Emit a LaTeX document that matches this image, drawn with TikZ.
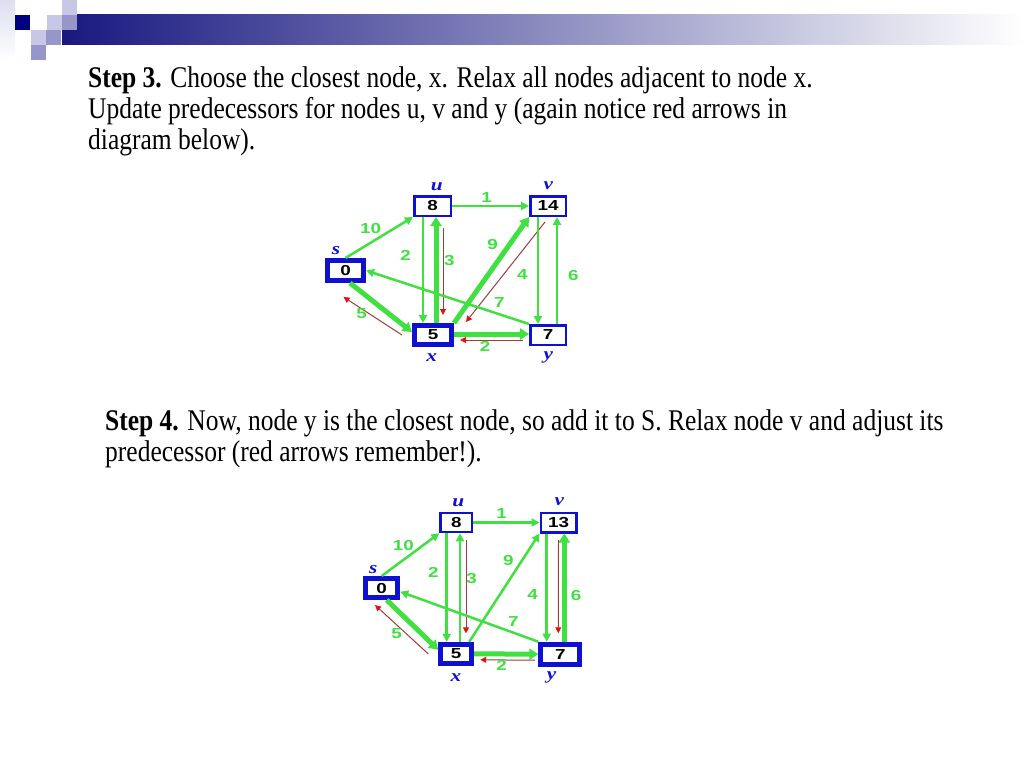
\documentclass[tikz,border=0pt]{standalone}
\usepackage{fontspec}
\setmainfont{Liberation Serif}
\newfontfamily\slidefont[FakeStretch=0.85]{Liberation Serif}
\newfontfamily\gsans[FakeStretch=1.3]{Liberation Sans}
\newfontfamily\nlfont[FakeStretch=1.25]{Liberation Serif}
\usetikzlibrary{arrows.meta,calc}
\definecolor{gr}{RGB}{64,224,64}
\definecolor{bl}{RGB}{16,16,208}
\definecolor{rd}{RGB}{220,20,20}
\definecolor{rdl}{RGB}{160,60,60}
\definecolor{navybar}{RGB}{24,24,128}
\definecolor{sqdark}{RGB}{0,0,128}
\definecolor{sqlight}{RGB}{200,200,230}
\definecolor{sqmed}{RGB}{150,150,200}
\tikzset{
  numfont/.style={font=\gsans\bfseries\fontsize{14.5}{14.5}\selectfont},
  thinbox/.style={draw=bl, line width=2.5pt, fill=white, inner sep=0pt, numfont},
  thickbox/.style={draw=bl, line width=5pt, fill=white, inner sep=0pt, numfont},
  ge/.style={draw=gr, line width=2.5pt, -{Triangle[length=8pt,width=8pt]}},
  gt/.style={draw=gr, line width=5pt, -{Triangle[length=9pt,width=11pt]}},
  re/.style={draw=rdl, line width=1pt, -{Triangle[length=6pt,width=6pt,color=rd]}},
  wl/.style={text=gr, inner sep=0pt, font=\gsans\bfseries\fontsize{14.5}{14.5}\selectfont},
  nl/.style={text=bl, inner sep=0pt, font=\nlfont\bfseries\itshape\fontsize{17}{17}\selectfont},
  slidetext/.style={anchor=base west, inner sep=0pt, font=\slidefont\fontsize{30}{30}\selectfont}
}
\begin{document}
\begin{tikzpicture}[x=1pt,y=-1pt]
\useasboundingbox (0,0) rectangle (1024,768);
% header decoration
\shade[top color=sqlight!60, bottom color=white] (0,0) rectangle (15,60);
\shade[left color=navybar, right color=white] (62,15) rectangle (1024,45);
\fill[sqdark] (15,15) rectangle (30,30);
\fill[sqlight] (47,15) rectangle (62,30);
\fill[sqlight] (62,0) rectangle (77,15);
\fill[sqmed] (62,15) rectangle (77,30);
\fill[sqlight] (31,30) rectangle (46,45);
\fill[sqmed] (46,30) rectangle (61,45);
\fill[sqmed] (31,45) rectangle (46,60);

% text
\node[slidetext] (t1) at (88,87) {\textbf{Step 3.} Choose the closest node, x. Relax all nodes adjacent to node x.};
\node[slidetext] (t2) at (88,118) {Update predecessors for nodes u, v and y (again notice red arrows in};
\node[slidetext] (t3) at (88,149) {diagram below).};
\node[slidetext] (t4) at (105,430) {\textbf{Step 4.} Now, node y is the closest node, so add it to S. Relax node v and adjust its};
\node[slidetext] (t5) at (105,461) {predecessor (red arrows remember!).};

% ---------- diagram 1 ----------
\node[thickbox, minimum width=36pt, minimum height=20pt] (s1) at (345.5,270.5) {0};
\node[thinbox, minimum width=36.5pt, minimum height=19.5pt] (u1) at (432.5,206) {8};
\node[thinbox, minimum width=35.5pt, minimum height=19.5pt] (v1) at (548,206) {14};
\node[thickbox, minimum width=37pt, minimum height=19pt] (x1) at (433,335) {5};
\node[thinbox, minimum width=35.5pt, minimum height=19.5pt] (y1) at (548,335) {7};

\draw[ge] (s1.north) -- (u1.south west);
\draw[ge] (u1.east) -- (v1.west);
\draw[ge] ([xshift=-9.5pt]u1.south) -- ([xshift=-10pt]x1.north);
\draw[gt] ([xshift=3pt]x1.north) -- ([xshift=3.5pt]u1.south);
\draw[re] ([xshift=10.5pt,yshift=-11pt]u1.south) -- ([xshift=10pt,yshift=8pt]x1.north);
\draw[gt] (x1.north east) -- (v1.south west);
\draw[re] ([xshift=-3pt,yshift=-5pt]v1.south) -- ([xshift=12pt,yshift=1pt]x1.north east);
\draw[ge] ([xshift=-10pt]v1.south) -- ([xshift=-10pt]y1.north);
\draw[ge] ([xshift=9pt]y1.north) -- ([xshift=9pt]v1.south);
\draw[ge] (y1.north west) -- (s1.east);
\draw[gt] ([xshift=4.5pt]s1.south) -- ([yshift=3pt]x1.west);
\draw[re] ([xshift=-10pt]x1.west) -- ([xshift=-2pt,yshift=-14pt]s1.south);
\draw[gt] ([yshift=1pt]x1.east) -- ([yshift=1pt]y1.west);
\draw[re] ([xshift=-6pt,yshift=-5pt]y1.west) -- ([xshift=6pt,yshift=-5pt]x1.east);

\node[wl] (l1a) at (370.7,228.3) {10};
\node[wl] (l1b) at (486.7,197.7) {1};
\node[wl] (l1c) at (405.7,255) {2};
\node[wl] (l1d) at (449.3,261) {3};
\node[wl] (l1e) at (492.7,244.3) {9};
\node[wl] (l1f) at (522.3,275) {4};
\node[wl] (l1g) at (573.3,275.7) {6};
\node[wl] (l1h) at (499.3,302.7) {7};
\node[wl] (l1i) at (361.7,313.3) {5};
\node[wl] (l1j) at (485,346.7) {2};

\node[nl] (n1u) at (436.7,186.7) {u};
\node[nl] (n1v) at (548.3,185.5) {v};
\node[nl] (n1s) at (336,251) {s};
\node[nl] (n1x) at (431.7,357.7) {x};
\node[nl] (n1y) at (548.3,357.7) {y};

% ---------- diagram 2 ----------
\node[thickbox, minimum width=32pt, minimum height=19pt] (s2) at (381.7,588) {0};
\node[thinbox, minimum width=31.5pt, minimum height=19pt] (u2) at (456.3,522.5) {8};
\node[thinbox, minimum width=35.5pt, minimum height=19.5pt] (v2) at (558.5,522.5) {13};
\node[thickbox, minimum width=31pt, minimum height=19pt] (x2) at (456.2,653.8) {5};
\node[thickbox, minimum width=39pt, minimum height=20pt] (y2) at (560.3,654.2) {7};

\draw[ge] (s2.north) -- (u2.south west);
\draw[ge] (u2.east) -- (v2.west);
\draw[ge] ([xshift=-9.6pt]u2.south) -- ([xshift=-9.5pt]x2.north);
\draw[ge] ([xshift=3.8pt]x2.north) -- ([xshift=3.7pt]u2.south);
\draw[re] ([xshift=9.7pt,yshift=-6.7pt]u2.south) -- ([xshift=9.8pt,yshift=8.4pt]x2.north);
\draw[ge] ([xshift=-5pt]x2.north east) -- (v2.south west);
\draw[ge] ([xshift=-11.8pt]v2.south) -- ([xshift=-13.6pt]y2.north);
\draw[gt] ([xshift=4pt]y2.north) -- ([xshift=5.8pt]v2.south);
\draw[re] ([yshift=-6.7pt]v2.south) -- ([xshift=-2pt,yshift=8.4pt]y2.north);
\draw[ge] (y2.north west) -- ([yshift=-3.7pt]s2.east);
\draw[gt] ([xshift=5pt]s2.south) -- ([yshift=4pt]x2.west);
\draw[re] ([xshift=-10pt]x2.west) -- ([xshift=-6.7pt,yshift=-5pt]s2.south);
\draw[gt] (x2.east) -- (y2.west);
\draw[re] ([xshift=-3.3pt,yshift=-6pt]y2.west) -- ([xshift=6pt,yshift=-6pt]x2.east);

\node[wl] (l2a) at (403.3,545) {10};
\node[wl] (l2b) at (501.7,513.3) {1};
\node[wl] (l2c) at (433.3,572.7) {2};
\node[wl] (l2d) at (471.7,578.3) {3};
\node[wl] (l2e) at (508.3,560) {9};
\node[wl] (l2f) at (532.7,595) {4};
\node[wl] (l2g) at (576,595) {6};
\node[wl] (l2h) at (513.3,621.7) {7};
\node[wl] (l2i) at (396.7,633.3) {5};
\node[wl] (l2j) at (501.7,665) {2};

\node[nl] (n2u) at (458.3,502.7) {u};
\node[nl] (n2v) at (559.3,502) {v};
\node[nl] (n2s) at (373.3,570) {s};
\node[nl] (n2x) at (456,677.3) {x};
\node[nl] (n2y) at (551.7,677.3) {y};
\end{tikzpicture}
\end{document}
